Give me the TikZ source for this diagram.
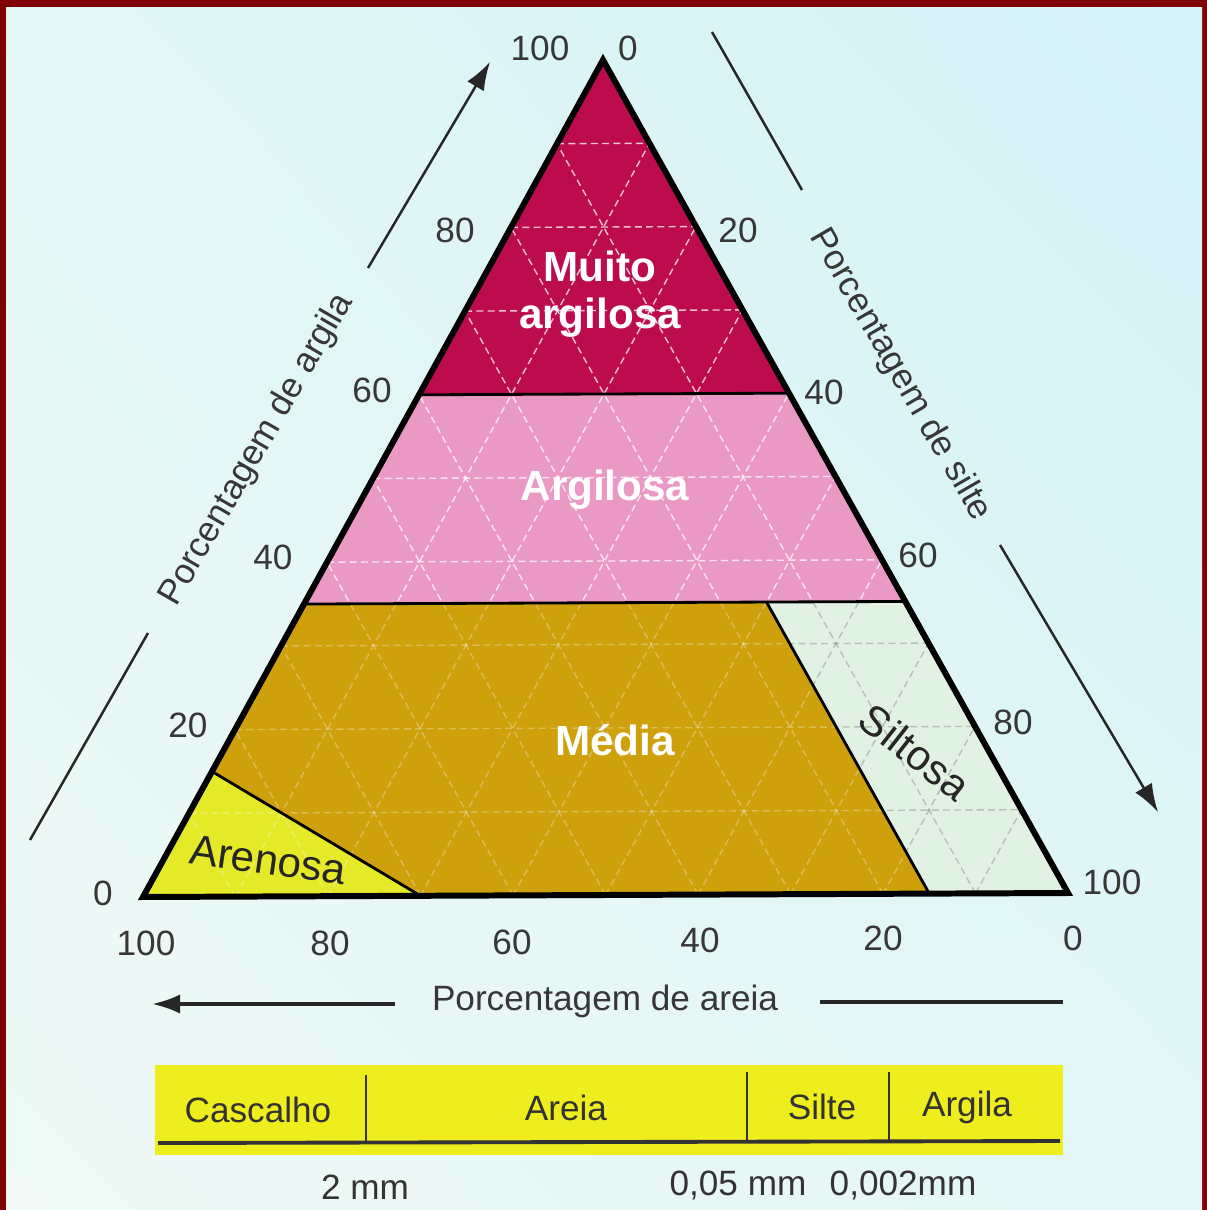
\documentclass[tikz,border=0pt]{standalone}
\usepackage{fontspec}
\setmainfont{Liberation Sans}
\usetikzlibrary{arrows.meta,shadings}
\definecolor{framered}{RGB}{128,0,6}
\definecolor{bgwhite}{RGB}{240,249,246}
\definecolor{bgcyan}{RGB}{212,242,247}
\definecolor{bgmid}{RGB}{226,246,245}
\definecolor{muitocol}{RGB}{188,12,78}
\definecolor{argcol}{RGB}{234,152,196}
\definecolor{mediacol}{RGB}{206,160,12}
\definecolor{arenocol}{RGB}{228,234,40}
\definecolor{siltcol}{RGB}{226,242,226}
\definecolor{bandyellow}{RGB}{238,238,30}
\definecolor{numgray}{RGB}{55,55,55}

% grid every 10 % in the three directions
\newcommand{\ternarygrid}{%
  \foreach \i in {1,...,9} {
    \pgfmathsetmacro\f{\i/10}
    \pgfmathsetmacro\g{1-\i/10}
    \draw (barycentric cs:A=\g,C=\f) -- (barycentric cs:B=\g,C=\f);
    \draw (barycentric cs:A=\g,B=\f) -- (barycentric cs:C=\g,B=\f);
    \draw (barycentric cs:A=\f,B=\g) -- (barycentric cs:A=\f,C=\g);
  }}

\begin{document}
\begin{tikzpicture}[
    x=0.01cm, y=-0.01cm,
    num/.style={font=\fontsize{10}{12}\selectfont, text=numgray, inner sep=1pt},
    axislabel/.style={font=\fontsize{10}{12}\selectfont, text=numgray, inner sep=1pt},
    classlabel/.style={font=\fontsize{12}{13.5}\selectfont\bfseries, text=white, align=center},
    darklabel/.style={font=\fontsize{12}{14}\selectfont, text=black!85},
    region/.style={draw=black, line width=0.8pt},
    gridline/.style={line width=0.4pt, dash pattern=on 2pt off 1.2pt},
    axisline/.style={line width=0.7pt, black!85},
    axisarrow/.style={axisline, -{Latex[length=8pt,width=5.5pt]}},
    bandtext/.style={font=\fontsize{10}{12}\selectfont, text=black!80, inner sep=1pt}
]
\useasboundingbox (0,0) rectangle (1207,1210);

% frame and background
\fill[framered] (0,0) rectangle (1207,1210);
\shade[upper left=bgmid, upper right=bgcyan, lower left=bgwhite, lower right=bgmid]
  (6,8) rectangle (1202,1210);

% triangle corners: A = 100 % areia, B = 100 % silte, C = 100 % argila
\coordinate (A) at (143,897);
\coordinate (B) at (1068,893);
\coordinate (C) at (603,60);

% class boundaries
\coordinate (c60L) at (barycentric cs:A=0.4,C=0.6);
\coordinate (c60R) at (barycentric cs:B=0.4,C=0.6);
\coordinate (c35L) at (barycentric cs:A=0.65,C=0.35);
\coordinate (c35R) at (barycentric cs:B=0.65,C=0.35);
\coordinate (silt1) at (barycentric cs:A=0.15,B=0.5,C=0.35);
\coordinate (silt2) at (barycentric cs:A=0.15,B=0.85);
\coordinate (aren1) at (barycentric cs:A=0.85,C=0.15);
\coordinate (aren2) at (barycentric cs:A=0.7,B=0.3);

% classes
\fill[muitocol] (C) -- (c60R) -- (c60L) -- cycle;
\fill[argcol] (c60L) -- (c60R) -- (c35R) -- (c35L) -- cycle;
\fill[mediacol] (c35L) -- (silt1) -- (silt2) -- (aren2) -- (aren1) -- cycle;
\fill[siltcol] (silt1) -- (c35R) -- (B) -- (silt2) -- cycle;
\fill[arenocol] (A) -- (aren2) -- (aren1) -- cycle;

% grid
\begin{scope}[gridline, white, opacity=0.75]
  \clip (C) -- (c35R) -- (c35L) -- cycle;
  \ternarygrid
\end{scope}
\begin{scope}[gridline, white, opacity=0.3]
  \clip (c35L) -- (silt1) -- (silt2) -- (A) -- cycle;
  \ternarygrid
\end{scope}
\begin{scope}[gridline, black!45, opacity=0.5]
  \clip (silt1) -- (c35R) -- (B) -- (silt2) -- cycle;
  \ternarygrid
\end{scope}

\draw[region] (c60L) -- (c60R);
\draw[region] (c35L) -- (c35R);
\draw[region] (silt1) -- (silt2);
\draw[region] (aren1) -- (aren2);
\draw[line width=1.7pt, line join=miter] (A) -- (B) -- (C) -- cycle;

% class names
\node[classlabel] (muito) at (600,294) {Muito\\argilosa};
\node[classlabel] (argilosa) at (605,490) {Argilosa};
\node[classlabel] (media) at (615,740) {Média};
\node[darklabel, rotate=-38] (siltosa) at (915,752) {Siltosa};
\node[darklabel, rotate=-8] (arenosa) at (268,860) {Arenosa};

% scale numbers
\foreach \v/\px/\py in {100/540/48, 80/455/230, 60/372/390, 40/273/557, 20/188/725, 0/103/893}
  \node[num] (arg\v) at (\px,\py) {\v};
\foreach \v/\px/\py in {0/628/48, 20/738/230, 40/824/392, 60/918/555, 80/1013/722, 100/1112/882}
  \node[num] (sil\v) at (\px,\py) {\v};
\foreach \v/\px/\py in {100/146/943, 80/330/943, 60/512/942, 40/700/940, 20/883/938, 0/1073/938}
  \node[num] (are\v) at (\px,\py) {\v};

% axis titles with their arrows
\node[axislabel, rotate=60] (argtitle) at (257,450) {Porcentagem de argila};
\node[axislabel, rotate=-60] (siltitle) at (900,375) {Porcentagem de silte};
\node[axislabel] (aretitle) at (605,1001) {Porcentagem de areia};

\coordinate (argL0) at (30,840);
\coordinate (argL1) at (148,633);
\coordinate (argL2) at (368,268);
\coordinate (argL3) at (490,62);
\draw[axisline] (argL0) -- (argL1);
\draw[axisarrow] (argL2) -- (argL3);

\coordinate (silL0) at (712,32);
\coordinate (silL1) at (802,190);
\coordinate (silL2) at (1000,545);
\coordinate (silL3) at (1158,812);
\draw[axisline] (silL0) -- (silL1);
\draw[axisarrow] (silL2) -- (silL3);

\coordinate (areL0) at (1063,1002);
\coordinate (areL1) at (820,1002);
\coordinate (areL2) at (395,1004);
\coordinate (areL3) at (152,1004);
\draw[axisline, line width=1pt] (areL0) -- (areL1);
\draw[axisarrow, line width=1pt] (areL2) -- (areL3);

% particle size band
\fill[bandyellow] (155,1065) rectangle (1063,1155);
\coordinate (bandL) at (158,1143);
\coordinate (bandR) at (1060,1141);
\draw[line width=1.1pt, black!80] (bandL) -- (bandR);
\foreach \px/\top in {366/1075, 747/1072, 889/1072}
  \draw[line width=0.7pt, black!80] (\px,\top) -- (\px,1142);

\node[bandtext] (cascalho) at (258,1110) {Cascalho};
\node[bandtext] (areia) at (566,1108) {Areia};
\node[bandtext] (silte) at (822,1107) {Silte};
\node[bandtext] (argila) at (967,1107) {Argila};

\node[bandtext] (lim2) at (365,1187) {2 mm};
\node[bandtext] (lim005) at (738,1185) {0,05 mm};
\node[bandtext] (lim0002) at (903,1185) {0,002mm};

\end{tikzpicture}
\end{document}
